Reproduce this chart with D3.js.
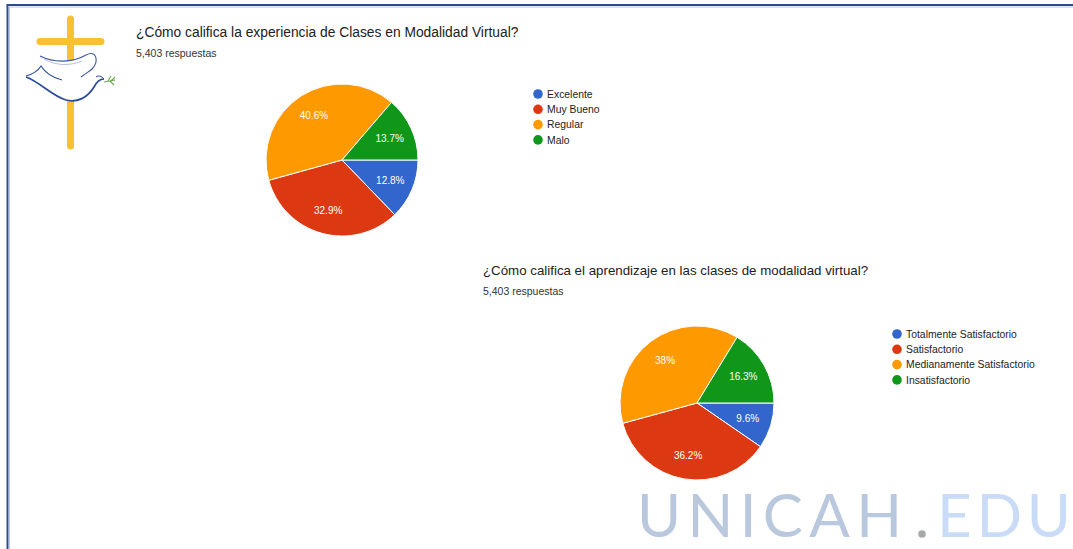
<!DOCTYPE html>
<html><head><meta charset="utf-8">
<script src="https://cdn.jsdelivr.net/npm/d3@7"></script>
<style>html,body{margin:0;padding:0;background:#fff;}svg{display:block;}</style>
</head><body>
<svg id="c" width="1073" height="549"></svg>
<script>
// ---- data ----
const title1 = "¿Cómo califica la experiencia de Clases en Modalidad Virtual?";
const title2 = "¿Cómo califica el aprendizaje en las clases de modalidad virtual?";
const responses = "5,403 respuestas";
const cats1 = ["Excelente", "Muy Bueno", "Regular", "Malo"];
const vals1 = [12.8, 32.9, 40.6, 13.7];
const labels1 = ["12.8%", "32.9%", "40.6%", "13.7%"];
const cats2 = ["Totalmente Satisfactorio", "Satisfactorio", "Medianamente Satisfactorio", "Insatisfactorio"];
const vals2 = [9.6, 36.2, 38.0, 16.3];
const labels2 = ["9.6%", "36.2%", "38%", "16.3%"];
const colors = ["#3366cc", "#dc3912", "#ff9900", "#109618"];

const svg = d3.select("#c");
const font = "'Liberation Sans', Arial, sans-serif";

// frame
svg.append("line").attr("x1",7.5).attr("y1",5).attr("x2",7.5).attr("y2",549).attr("stroke","#2c4a96").attr("stroke-width",2);
svg.append("line").attr("x1",9.5).attr("y1",7).attr("x2",9.5).attr("y2",549).attr("stroke","#b9c6e6").attr("stroke-width",1);
svg.append("line").attr("x1",6.5).attr("y1",5).attr("x2",1073).attr("y2",5).attr("stroke","#2c4a96").attr("stroke-width",2);
svg.append("line").attr("x1",8.5).attr("y1",7).attr("x2",1073).attr("y2",7).attr("stroke","#b9c6e6").attr("stroke-width",1);

// logo: cross + dove
const logo = svg.append("g");
logo.append("line").attr("x1",70.5).attr("y1",19).attr("x2",70.5).attr("y2",146).attr("stroke","#f8c133").attr("stroke-width",7).attr("stroke-linecap","round");
logo.append("line").attr("x1",40).attr("y1",41.5).attr("x2",101).attr("y2",41.5).attr("stroke","#f8c133").attr("stroke-width",7).attr("stroke-linecap","round");
// white dove silhouette hiding the cross
logo.append("path").attr("d","M26,77 C33,73 38,70 41,66 L40,56 C55,63 75,63 94,55 C98,62 96,70 92,74 L97,76 L104,79 C98,84 95,92 88,97 C80,102 72,102 64,99 C50,94 40,82 26,77 Z").attr("fill","#fff");
// dove strokes
logo.append("path").attr("d","M26,77 C40,82 52,96 66,100 C78,103 88,97 94,87 C97,81 100,79 104,79").attr("fill","none").attr("stroke","#2a4a9a").attr("stroke-width",1.7);
logo.append("path").attr("d","M26,76 C33,74 38,71 41,66 C46,74 54,78 62,80").attr("fill","none").attr("stroke","#2a4a9a").attr("stroke-width",1.1);
logo.append("path").attr("d","M40,56 C54,63 72,63 86,55 C97,49 99,62 92,69 C89,72 86,73 81,77").attr("fill","none").attr("stroke","#3a58a8").attr("stroke-width",1.1);
logo.append("path").attr("d","M44,59 C56,66 70,66 82,61").attr("fill","none").attr("stroke","#9fb0da").attr("stroke-width",0.8);
logo.append("path").attr("d","M96,77 C99,75 101,76 104,79").attr("fill","none").attr("stroke","#2a4a9a").attr("stroke-width",1);
const br = logo.append("g").attr("stroke","#6aa84f").attr("stroke-width",1.1).attr("fill","none");
br.append("path").attr("d","M104,82 L115,80");
br.append("path").attr("d","M108,81 L111,76");
br.append("path").attr("d","M111,81 L115,77");
br.append("path").attr("d","M110,81 L114,85");

// pie helper
function drawPie(cx, cy, r, vals, labels, cats, title, tsize, tx, ty, lx, ly) {
  svg.append("text").attr("x",tx).attr("y",ty).attr("font-family",font).attr("font-size",tsize).attr("fill","#212121").text(title);
  svg.append("text").attr("x",tx).attr("y",ty+20).attr("font-family",font).attr("font-size",10.5).attr("fill","#333").text(responses);
  const pie = d3.pie().sort(null).startAngle(Math.PI/2).endAngle(Math.PI/2 + 2*Math.PI);
  const arcs = pie(vals);
  const arc = d3.arc().innerRadius(0).outerRadius(r);
  const labArc = d3.arc().innerRadius(r*0.69).outerRadius(r*0.69);
  const g = svg.append("g").attr("transform",`translate(${cx},${cy})`);
  g.selectAll("path").data(arcs).join("path").attr("d",arc).attr("fill",(d,i)=>colors[i]).attr("stroke","#fff").attr("stroke-width",1);
  g.selectAll("text").data(arcs).join("text")
    .attr("transform",d=>`translate(${labArc.centroid(d)})`)
    .attr("text-anchor","middle").attr("dy","0.35em")
    .attr("font-family",font).attr("font-size",10).attr("fill","#fff")
    .text((d,i)=>labels[i]);
  const leg = svg.append("g").attr("transform",`translate(${lx},${ly})`);
  const items = leg.selectAll("g").data(cats).join("g").attr("transform",(d,i)=>`translate(0,${i*15.3})`);
  items.append("circle").attr("r",4.8).attr("fill",(d,i)=>colors[i]);
  items.append("text").attr("x",9).attr("dy","0.35em").attr("font-family",font).attr("font-size",10.4).attr("fill","#222").text(d=>d);
}

drawPie(342, 160, 76, vals1, labels1, cats1, title1, 13.8, 136, 37, 538, 94);
drawPie(697, 403, 77, vals2, labels2, cats2, title2, 13.3, 483, 275, 897, 334);

// watermark
svg.append("text").attr("x",637).attr("y",537).attr("font-family","Lato, sans-serif").attr("font-weight",400)
  .attr("font-size",60).attr("fill","#bac8de").attr("textLength",265).attr("lengthAdjust","spacing").text("UNICAH");
svg.append("circle").attr("cx",922).attr("cy",534).attr("r",3.8).attr("fill","#a7a9ad");
svg.append("text").attr("x",937).attr("y",537).attr("font-family","Lato, sans-serif").attr("font-weight",400)
  .attr("font-size",60).attr("fill","#c9dbf7").attr("textLength",134).attr("lengthAdjust","spacing").text("EDU");
</script>
</body></html>
